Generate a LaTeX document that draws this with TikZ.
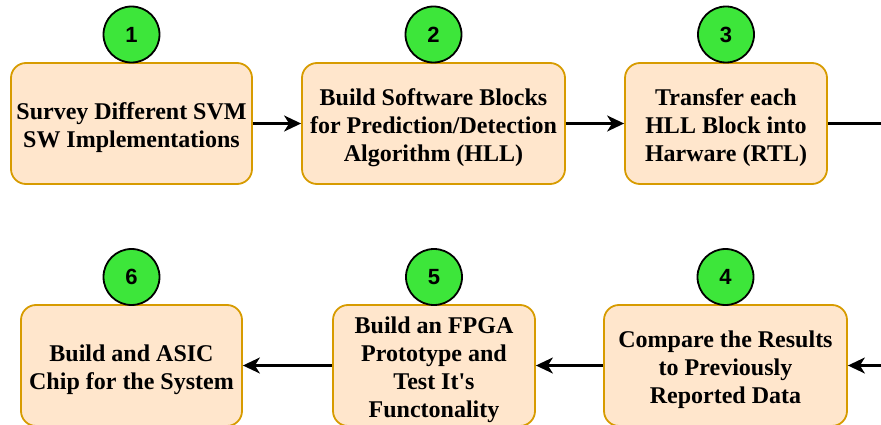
\documentclass[tikz,border=0pt]{standalone}
\usepackage{fontspec}
\setmainfont{Liberation Serif}[Ligatures=TeXOff]
\newfontfamily\numfont{Liberation Sans}
\usetikzlibrary{arrows.meta}
\definecolor{boxfill}{HTML}{FFE6CC}
\definecolor{boxline}{HTML}{D79B00}
\definecolor{badge}{HTML}{3DE63A}
% centred lines of a step, set a little low in the box
\newcommand\steplines[1]{\raisebox{-4pt}[\height][\depth]{\begin{tabular}{@{}c@{}}#1\end{tabular}}}
\begin{document}
\begin{tikzpicture}[x=1pt,y=-1pt,
  stepbox/.style={draw=boxline, fill=boxfill, line width=1.8pt, rounded corners=15pt,
    minimum height=121pt, inner sep=0pt,
    font=\fontsize{24}{28}\selectfont\bfseries},
  badgenode/.style={circle, draw=black, fill=badge, line width=1.8pt, minimum size=56pt,
    inner sep=0pt, font=\numfont\fontsize{22}{26}\selectfont\bfseries},
  flow/.style={line width=2.2pt, -{Stealth[length=17pt, width=16pt, inset=5pt]}},
  plain/.style={line width=2.2pt}]
\useasboundingbox (0,0) rectangle (881,425);

% top row
\node[stepbox, minimum width=241pt] (b1) at (131.5,123.5) {\steplines{Survey Different SVM\\SW Implementations}};
\node[stepbox, minimum width=263pt] (b2) at (433.5,123.5) {\steplines{Build Software Blocks\\for Prediction/Detection\\Algorithm (HLL)}};
\node[stepbox, minimum width=202pt] (b3) at (726,123.5) {\steplines{Transfer each\\HLL Block into\\Harware (RTL)}};

% bottom row
\node[stepbox, minimum width=243pt] (b4) at (725.5,365.5) {\steplines{Compare the Results\\to Previously\\Reported Data}};
\node[stepbox, minimum width=202pt] (b5) at (434,365.5) {\steplines{Build an FPGA\\Prototype and\\Test It's\\Functonality}};
\node[stepbox, minimum width=221pt] (b6) at (131.5,365.5) {\steplines{Build and ASIC\\Chip for the System}};

% step numbers
\node[badgenode] (n1) at (131.5,34.5) {1};
\node[badgenode] (n2) at (433.5,34.5) {2};
\node[badgenode] (n3) at (726,34.5) {3};
\node[badgenode] (n4) at (725.5,277) {4};
\node[badgenode] (n5) at (434,277) {5};
\node[badgenode] (n6) at (131.5,277) {6};

% connectors
\coordinate (outR) at (882,123.5);
\coordinate (inR) at (882,365.5);
\draw[flow] (b1) -- (b2);
\draw[flow] (b2) -- (b3);
\draw[plain] (b3) -- (outR);
\draw[flow] (inR) -- (b4);
\draw[flow] (b4) -- (b5);
\draw[flow] (b5) -- (b6);
\end{tikzpicture}
\end{document}
